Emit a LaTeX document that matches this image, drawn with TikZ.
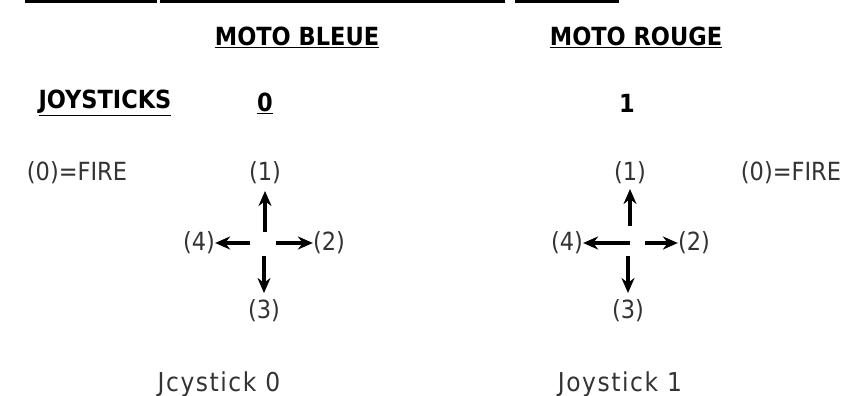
\documentclass[tikz,border=0pt]{standalone}
\usepackage{fontspec}
\setmainfont{DejaVu Sans Condensed}
\usetikzlibrary{arrows.meta}
\begin{document}
\begin{tikzpicture}[x=1pt,y=-1pt,
  lbl/.style={inner sep=0pt,font=\fontsize{25}{28}\selectfont,text=black!80},
  capname/.style={inner sep=0pt,font=\fontsize{26}{30}\selectfont\addfontfeatures{LetterSpace=6},text=black!80},
  head/.style={inner sep=0pt,font=\fontsize{25}{28}\selectfont\bfseries,text=black},
  arr/.style={line width=3.5pt,-{Stealth[length=15pt,width=13pt]},black},
  rule/.style={line width=4pt,black}]
\useasboundingbox (0,0) rectangle (859,396);
% top cut-off rule
\coordinate (r1a) at (25,1); \coordinate (r1b) at (157,1);
\coordinate (r2a) at (160,1); \coordinate (r2b) at (505,1);
\coordinate (r3a) at (515,1); \coordinate (r3b) at (619,1);
\draw[rule] (r1a) -- (r1b); \draw[rule] (r2a) -- (r2b); \draw[rule] (r3a) -- (r3b);
% headings
\node[head] (mb) at (297,37) {\underline{MOTO BLEUE}};
\node[head] (mr) at (636,37) {\underline{MOTO ROUGE}};
\node[head] (js) at (105,103) {\underline{JOYSTICKS}};
\node[head] (j0) at (265,103) {\underline{0}};
\node[head] (j1) at (627,103) {1};
% left joystick
\node[lbl] (f0) at (77,173) {(0)=FIRE};
\node[lbl] (u0) at (265,173) {(1)};
\node[lbl] (l0) at (199,243) {(4)};
\node[lbl] (r0) at (329,243) {(2)};
\node[lbl] (d0) at (264,311) {(3)};
\coordinate (c0u) at (265,232); \coordinate (c0d) at (264,256);
\coordinate (c0l) at (250,243); \coordinate (c0r) at (276,243);
\coordinate (e0u) at (265,191); \coordinate (e0d) at (264,293);
\draw[arr] (c0u) -- (e0u);
\draw[arr] (c0l) -- (l0.east);
\draw[arr] (c0r) -- (r0.west);
\draw[arr] (c0d) -- (e0d);
\node[capname] (n0) at (219,384) {Jcystick 0};
% right joystick
\node[lbl] (f1) at (791,173) {(0)=FIRE};
\node[lbl] (u1) at (630,173) {(1)};
\node[lbl] (l1) at (567,243) {(4)};
\node[lbl] (r1) at (694,243) {(2)};
\node[lbl] (d1) at (628,311) {(3)};
\coordinate (c1u) at (630,226); \coordinate (c1d) at (628,256);
\coordinate (c1l) at (630,243); \coordinate (c1r) at (645,243);
\coordinate (e1u) at (630,189); \coordinate (e1d) at (628,293);
\draw[arr] (c1u) -- (e1u);
\draw[arr] (c1l) -- (l1.east);
\draw[arr] (c1r) -- (r1.west);
\draw[arr] (c1d) -- (e1d);
\node[capname] (n1) at (620,384) {Joystick 1};
\end{tikzpicture}
\end{document}
